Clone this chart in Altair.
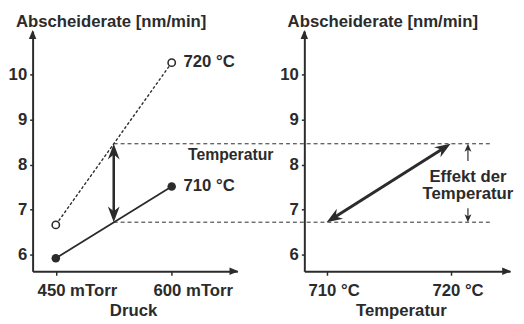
import math
import altair as alt
import pandas as pd

# ---------------- data ----------------
pressure = [450, 600]                 # mTorr
rate_720 = [6.66, 10.26]              # nm/min at 720 °C
rate_710 = [5.92, 7.51]               # nm/min at 710 °C
series_labels = ["720 °C", "710 °C"]
temps = [710, 720]                    # °C
effect_levels = [6.72, 8.46]          # rate at 525 mTorr for 710 / 720 °C
mid_pressure = 525
effect_x = 721.4                      # position of the "Effekt der Temperatur" marker
annot_temp = ("Temperatur", 621, 8.21)
annot_effect = ("Effekt der\nTemperatur", 721.4, 7.73)
y_title = "Abscheiderate [nm/min]"

# ---------------- layout / style ----------------
LEFT_W, RIGHT_W, H, GAP = 208, 209, 244, 68
XL = [420, 685]
XR = [708.2, 724.8]
YD = [5.63, 10.96]
INK = "#2b2b2b"
FONT = "Liberation Sans"
FS = 17
FW = "bold"

PXL = LEFT_W / (XL[1] - XL[0])
PXR = RIGHT_W / (XR[1] - XR[0])
PY = H / (YD[1] - YD[0])


def px_r(v):
    return (v - XR[0]) * PXR


HEAD_BIG = "M0,0 L6,16 L0,11 L-6,16 Z"
HEAD_SMALL = "M0,0 L3.5,8 L0,6 L-3.5,8 Z"
HEAD_AXIS = "M0,0 L3.8,9 L-3.8,9 Z"

xl_scale = alt.Scale(domain=XL, nice=False, zero=False)
xr_scale = alt.Scale(domain=XR, nice=False, zero=False)
y_scale = alt.Scale(domain=YD, nice=False, zero=False)


def y_axis():
    return alt.Axis(values=[6, 7, 8, 9, 10], format="d", title=None,
                    grid=False, tickSize=3, labelPadding=3)


def x_axis(vals, unit, title, title_x):
    return alt.Axis(values=vals, labelExpr=f"datum.value + ' {unit}'", title=title,
                    labelAlign="left", labelOffset=-19,
                    grid=False, tickSize=4, labelPadding=8, titlePadding=4,
                    titleX=title_x)


def heads(df, path, size=4):
    return alt.Chart(df).mark_point(shape=path, filled=True, size=size, opacity=1,
                                    color=INK, strokeWidth=0)


def decorations(w):
    df = pd.DataFrame({"a": [0]})
    up = alt.Chart(df).mark_point(shape=HEAD_AXIS, filled=True, size=4, opacity=1,
                                  color=INK, strokeWidth=0).encode(
        x=alt.value(0), y=alt.value(-1))
    right = alt.Chart(df).mark_point(shape=HEAD_AXIS, filled=True, size=4, opacity=1,
                                     color=INK, strokeWidth=0, angle=90).encode(
        x=alt.value(w + 1), y=alt.value(H))
    title = alt.Chart(pd.DataFrame({"t": [y_title]})).mark_text(
        align="left", baseline="alphabetic", font=FONT, fontSize=FS, fontWeight=FW,
        color=INK).encode(x=alt.value(-17), y=alt.value(-4), text="t:N")
    return up, right, title


# ---------------- left panel ----------------
df720 = pd.DataFrame({"p": pressure, "r": rate_720})
df710 = pd.DataFrame({"p": pressure, "r": rate_710})
x_enc = alt.X("p:Q", scale=xl_scale, axis=x_axis(pressure, "mTorr", "Druck", 102))
y_enc = alt.Y("r:Q", scale=y_scale, axis=y_axis())

dash_end = LEFT_W + GAP + px_r(723.2)
df_dash = pd.DataFrame({"p": [mid_pressure] * 2, "r": effect_levels})
dashes = alt.Chart(df_dash).mark_rule(strokeDash=[4, 3], strokeWidth=1, color=INK).encode(
    x=x_enc, y=y_enc, x2=alt.value(dash_end))

line720 = alt.Chart(df720).mark_line(strokeDash=[3, 2], strokeWidth=1.4, color=INK).encode(
    x=x_enc, y=y_enc)
line710 = alt.Chart(df710).mark_line(strokeWidth=1.8, color=INK).encode(x=x_enc, y=y_enc)
pts720 = alt.Chart(df720).mark_point(shape="circle", filled=True, fill="white", stroke=INK,
                                     strokeWidth=1.6, size=55, opacity=1).encode(x=x_enc, y=y_enc)
pts710 = alt.Chart(df710).mark_circle(color=INK, size=75, opacity=1).encode(x=x_enc, y=y_enc)

df_lab = pd.DataFrame({"p": [pressure[1]] * 2, "r": [rate_720[1], rate_710[1]],
                       "t": series_labels})
labels = alt.Chart(df_lab).mark_text(align="left", baseline="middle", dx=12, dy=-1,
                                     font=FONT, fontSize=FS, fontWeight=FW, color=INK).encode(
    x=x_enc, y=y_enc, text="t:N")

s = 6 / PY
df_varrow = pd.DataFrame({"p": [mid_pressure], "r": [effect_levels[0] + s],
                          "r2": [effect_levels[1] - s]})
varrow = alt.Chart(df_varrow).mark_rule(strokeWidth=2.6, color=INK).encode(
    x=x_enc, y=y_enc, y2="r2:Q")
df_vheads = pd.DataFrame({"p": [mid_pressure] * 2, "r": [effect_levels[1], effect_levels[0]],
                          "a": [0, 180]})
vheads = heads(df_vheads, HEAD_BIG).encode(x=x_enc, y=y_enc,
                                           angle=alt.Angle("a:Q", scale=None))

df_at = pd.DataFrame({"p": [annot_temp[1]], "r": [annot_temp[2]], "t": [annot_temp[0]]})
annot1 = alt.Chart(df_at).mark_text(align="left", baseline="middle", font=FONT,
                                    fontSize=16, fontWeight=FW, color=INK).encode(
    x=x_enc, y=y_enc, text="t:N")

upL, rightL, titleL = decorations(LEFT_W)
left = alt.layer(dashes, line720, line710, varrow, vheads, pts720, pts710, labels, annot1,
                 upL, rightL, titleL).properties(width=LEFT_W, height=H)

# ---------------- right panel ----------------
xr_enc = alt.X("t:Q", scale=xr_scale, axis=x_axis(temps, "°C", "Temperatur", 98))
yr_enc = alt.Y("r:Q", scale=y_scale, axis=y_axis())

vx = (temps[1] - temps[0]) * PXR
vy = (effect_levels[1] - effect_levels[0]) * PY
L = math.hypot(vx, vy)
ux, uy = vx / L, vy / L
sh = 8
df_diag = pd.DataFrame({"t": [temps[0] + sh * ux / PXR], "r": [effect_levels[0] + sh * uy / PY],
                        "t2": [temps[1] - sh * ux / PXR], "r2": [effect_levels[1] - sh * uy / PY]})
diag = alt.Chart(df_diag).mark_rule(strokeWidth=3, color=INK).encode(
    x=xr_enc, y=yr_enc, x2="t2:Q", y2="r2:Q")
ang = math.degrees(math.atan2(vx, vy))
df_dheads = pd.DataFrame({"t": [temps[1], temps[0]], "r": [effect_levels[1], effect_levels[0]],
                          "a": [ang, ang + 180]})
dheads = heads(df_dheads, HEAD_BIG).encode(x=xr_enc, y=yr_enc,
                                           angle=alt.Angle("a:Q", scale=None))

s2 = 4 / PY
df_small = pd.DataFrame({"t": [effect_x, effect_x], "r": [8.08, 7.03],
                         "r2": [effect_levels[1] - s2, effect_levels[0] + s2]})
small = alt.Chart(df_small).mark_rule(strokeWidth=1.2, color=INK).encode(
    x=xr_enc, y=yr_enc, y2="r2:Q")
df_sheads = pd.DataFrame({"t": [effect_x] * 2, "r": [effect_levels[1], effect_levels[0]],
                          "a": [0, 180]})
sheads = heads(df_sheads, HEAD_SMALL).encode(x=xr_enc, y=yr_enc,
                                             angle=alt.Angle("a:Q", scale=None))

df_ae = pd.DataFrame({"t": [annot_effect[1]], "r": [annot_effect[2]], "s": [annot_effect[0]]})
annot2 = alt.Chart(df_ae).mark_text(align="center", baseline="middle", font=FONT, fontSize=FS,
                                    fontWeight=FW, lineBreak="\n", lineHeight=18,
                                    color=INK).encode(x=xr_enc, y=yr_enc, text="s:N")

upR, rightR, titleR = decorations(RIGHT_W)
right = alt.layer(diag, dheads, small, sheads, annot2, upR, rightR, titleR).properties(
    width=RIGHT_W, height=H)

chart = alt.hconcat(left, right, spacing=GAP, bounds="flush").properties(
    padding={"left": 0, "top": 3, "right": 2, "bottom": 0}
).configure(background="white").configure_view(stroke=None).configure_axis(
    domainColor=INK, domainWidth=2, tickColor=INK, tickWidth=1.5,
    labelFont=FONT, labelFontSize=FS, labelFontWeight=FW, labelColor=INK,
    titleFont=FONT, titleFontSize=FS, titleColor=INK, titleFontWeight=FW
)

chart.save("out.html", embed_options={"renderer": "svg", "actions": False})
